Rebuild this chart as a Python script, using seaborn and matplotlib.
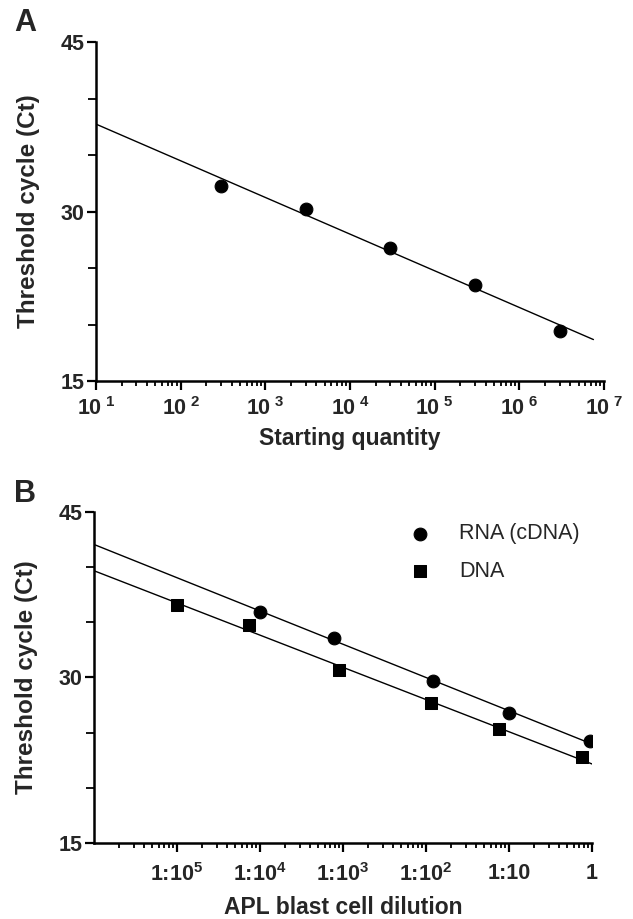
import numpy as np
import pandas as pd
import seaborn as sns
import matplotlib.pyplot as plt

# Panel A: standard curve
qty_a = [3e2, 3e3, 3e4, 3e5, 3e6]
ct_a = [32.3, 30.25, 26.75, 23.5, 19.45]

# Panel B: dilution series
rna_dil = [1e-4, 7.8e-4, 1.2e-2, 1e-1, 0.95]
rna_ct = [35.95, 33.55, 29.7, 26.75, 24.2]
dna_dil = [1e-5, 7.4e-5, 9e-4, 1.16e-2, 7.6e-2, 0.75]
dna_ct = [36.6, 34.75, 30.7, 27.7, 25.3, 22.75]

a_ticks = [1e1, 1e2, 1e3, 1e4, 1e5, 1e6, 1e7]
a_ticklabels = [r'10$^{\ %d}$' % k for k in range(1, 8)]
b_ticks = [1e-5, 1e-4, 1e-3, 1e-2, 1e-1, 1]
b_ticklabels = [r'1:10$^{5}$', r'1:10$^{4}$', r'1:10$^{3}$', r'1:10$^{2}$', '1:10', '1']

sns.set_theme(style="ticks")
plt.rcParams['font.family'] = ['Liberation Sans', 'DejaVu Sans']
plt.rcParams['mathtext.fontset'] = 'custom'
plt.rcParams['mathtext.rm'] = 'Liberation Sans:bold'
plt.rcParams['mathtext.it'] = 'Liberation Sans:bold'
plt.rcParams['mathtext.bf'] = 'Liberation Sans:bold'


def fit_line(x, y, x0, x1):
    k, b = np.polyfit(np.log10(x), y, 1)
    xs = np.array([x0, x1])
    return xs, k * np.log10(xs) + b


def style_axis(ax, ticks, ticklabels):
    ax.set_xscale('log')
    ax.set_xticks(ticks)
    ax.set_xticklabels(ticklabels)
    ax.set_ylim(15, 45)
    ax.set_yticks([15, 30, 45])
    ax.set_yticks([20, 25, 35, 40], minor=True)
    for s in ['top', 'right']:
        ax.spines[s].set_visible(False)
    for s in ['left', 'bottom']:
        ax.spines[s].set_linewidth(1.8)
        ax.spines[s].set_color('black')
    ax.tick_params(axis='both', which='major', length=6.5, width=1.6, color='black',
                   labelsize=15.5, pad=1.5)
    ax.tick_params(axis='x', which='minor', length=3.5, width=1.3, color='black')
    ax.tick_params(axis='y', which='minor', length=6, width=1.3, color='black')
    for lab in ax.get_yticklabels() + ax.get_xticklabels():
        lab.set_fontweight('bold')
    ax.grid(False)


fig = plt.figure(figsize=(6.33, 9.19), dpi=100)

# ---- Panel A ----
ax1 = fig.add_axes([0.1517, 0.5854, 0.8025, 0.3689])
xs, ys = fit_line(qty_a, ct_a, 1e1, 7.5e6)
sns.lineplot(x=xs, y=ys, ax=ax1, color='black', linewidth=1.0)
sns.scatterplot(x=qty_a, y=ct_a, ax=ax1, color='black', s=85, marker='o',
                edgecolor='black', zorder=3)
ax1.set_xlim(1e1, 1e7)
style_axis(ax1, a_ticks, a_ticklabels)
ax1.tick_params(axis='x', which='major', pad=5)
ax1.set_xlabel('Starting quantity', fontsize=16.5, fontweight='bold', labelpad=5)
ax1.set_ylabel('Threshold cycle (Ct)', fontsize=17.5, fontweight='bold', labelpad=15)
fig.text(0.022, 0.975, 'A', fontsize=22, fontweight='bold', va='center')

# ---- Panel B ----
ax2 = fig.add_axes([0.1485, 0.0827, 0.7867, 0.3602])
xs, ys = fit_line(rna_dil, rna_ct, 1e-6, 1.25)
sns.lineplot(x=xs, y=ys, ax=ax2, color='black', linewidth=1.0)
xs, ys = fit_line(dna_dil, dna_ct, 1e-6, 1.1)
sns.lineplot(x=xs, y=ys, ax=ax2, color='black', linewidth=1.0)
sns.scatterplot(x=rna_dil, y=rna_ct, ax=ax2, color='black', s=85, marker='o',
                edgecolor='black', zorder=3, label='RNA (cDNA)')
sns.scatterplot(x=dna_dil, y=dna_ct, ax=ax2, color='black', s=85, marker='s',
                edgecolor='black', zorder=3, label='DNA')
ax2.set_xlim(1e-6, 1)
style_axis(ax2, b_ticks, b_ticklabels)
ax2.tick_params(axis='x', which='major', pad=8)
ax2.set_xlabel('APL blast cell dilution', fontsize=16.5, fontweight='bold', labelpad=7)
ax2.set_ylabel('Threshold cycle (Ct)', fontsize=17.5, fontweight='bold', labelpad=15)
ax2.legend(loc='upper left', bbox_to_anchor=(0.59, 0.998), frameon=False,
           fontsize=15.5, handletextpad=0.8, labelspacing=0.75, borderpad=0,
           handlelength=2.0)
fig.text(0.022, 0.463, 'B', fontsize=22, fontweight='bold', va='center')

fig.savefig('out.png', dpi=100)
